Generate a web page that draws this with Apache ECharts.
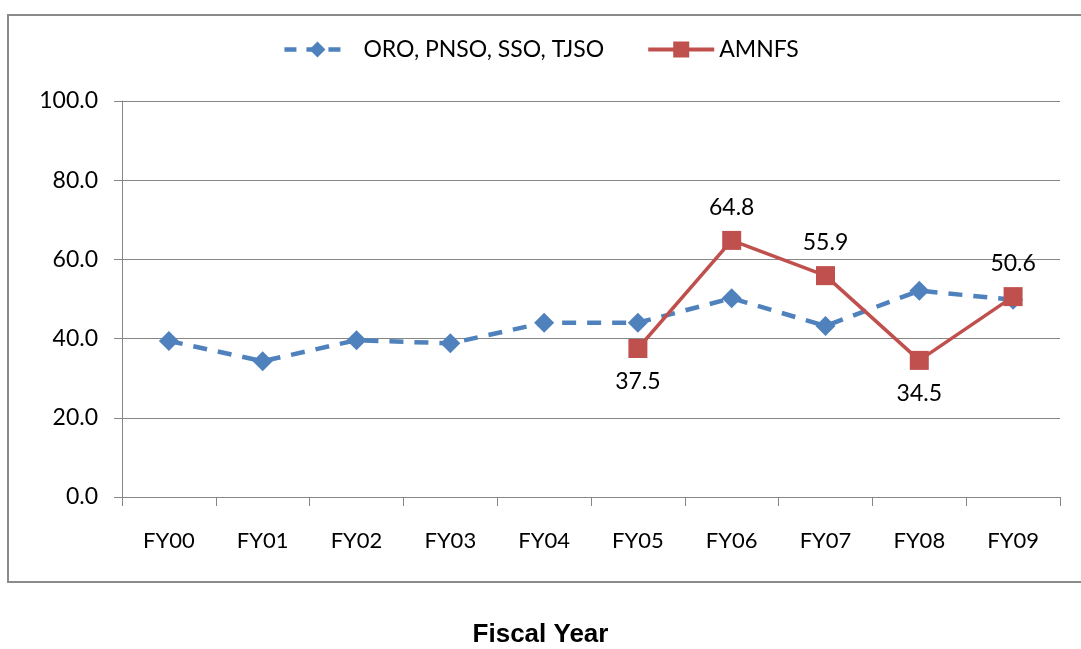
<!DOCTYPE html>
<html><head><meta charset="utf-8">
<script src="https://cdn.jsdelivr.net/npm/echarts@6/dist/echarts.min.js"></script>
<style>html,body{margin:0;padding:0;background:#fff}#c{width:1081px;height:649px}</style>
</head><body><div id="c"></div>
<script>
const categories = ['FY00','FY01','FY02','FY03','FY04','FY05','FY06','FY07','FY08','FY09'];
const seriesNames = ['ORO, PNSO, SSO, TJSO','AMNFS'];
const blueValues = [39.4, 34.3, 39.6, 38.8, 44.0, 44.0, 50.2, 43.2, 52.1, 49.8];
const redValues = [null, null, null, null, null, 37.5, 64.8, 55.9, 34.5, 50.6];
const redLabelPos = [null, null, null, null, null, 'bottom', 'top', 'top', 'bottom', 'top'];
const xTitle = 'Fiscal Year';

const chart = echarts.init(document.getElementById('c'));
const font = 'Lato, "Open Sans", sans-serif';
chart.setOption({
  animation: false,
  backgroundColor: '#fff',
  graphic: [
    {type:'rect', shape:{x:8, y:15, width:1090, height:567}, style:{fill:'none', stroke:'#8a8a8a', lineWidth:2}, silent:true},
    {type:'text', left:'center', top:622, style:{text:xTitle, font:'bold 26px "Liberation Sans", Arial, sans-serif', fill:'#000'}}
  ],
  legend: {
    top: 33, left: 'center',
    itemWidth: 66, itemHeight: 20, itemGap: 42,
    textStyle: {fontFamily: font, fontSize: 23, color: '#000'},
    data: [
      {name: seriesNames[0], lineStyle:{width:4.5, type:[12,10], color:'#4F81BD'}, textStyle:{padding:[0,0,0,8]}},
      {name: seriesNames[1], lineStyle:{width:4, color:'#C0504D'}}
    ]
  },
  grid: {left:122, right:21, top:101, bottom:152},
  xAxis: {
    type:'category', data: categories, boundaryGap: true,
    axisLine:{lineStyle:{color:'#868686', width:1}},
    axisTick:{show:true, length:9, lineStyle:{color:'#868686'}},
    axisLabel:{fontFamily:font, fontSize:22, color:'#000', margin:33}
  },
  yAxis: {
    type:'value', min:0, max:100, interval:20,
    axisLine:{show:true, lineStyle:{color:'#868686'}},
    axisTick:{show:true, length:8, lineStyle:{color:'#868686'}},
    axisLabel:{fontFamily:font, fontSize:23, color:'#000', margin:24, formatter: v => v.toFixed(1)},
    splitLine:{lineStyle:{color:'#868686', width:1}}
  },
  series: [
    {
      name: seriesNames[0], type:'line', data: blueValues,
      symbol:'diamond', symbolSize:20,
      lineStyle:{color:'#4F81BD', width:4.5, type:[14,11]},
      itemStyle:{color:'#4F81BD'}, z:2
    },
    {
      name: seriesNames[1], type:'line', data: redValues.map((v,i)=> v==null? null : {value:v, label:{position:redLabelPos[i]}}),
      symbol:'rect', symbolSize:19, connectNulls:false,
      lineStyle:{color:'#C0504D', width:3.5},
      itemStyle:{color:'#C0504D'}, z:3,
      label:{show:true, fontFamily:font, fontSize:23, color:'#000', distance:12, formatter: p => p.value.toFixed(1)}
    }
  ]
});
</script></body></html>
